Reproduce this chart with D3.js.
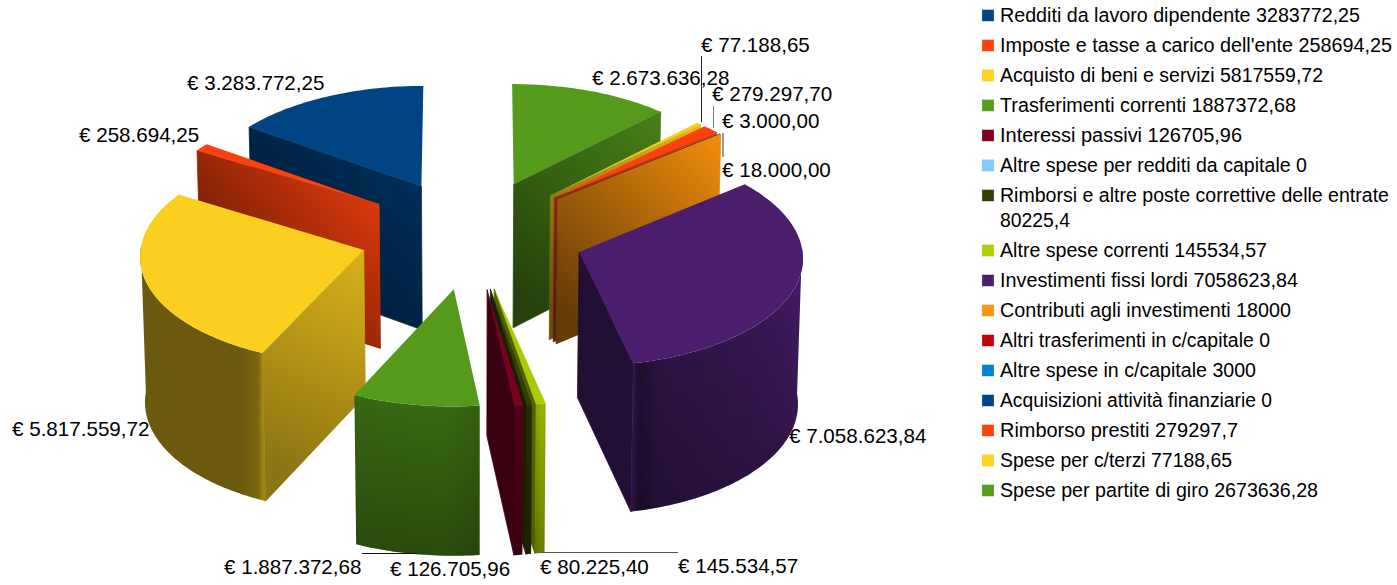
<!DOCTYPE html>
<html>
<head>
<meta charset="utf-8">
<script src="https://d3js.org/d3.v7.min.js"></script>
<style>
  html, body { margin: 0; padding: 0; background: #fff; overflow: hidden; }
  text { font-family: "Liberation Sans", Arial, sans-serif; fill: #000; }
</style>
</head>
<body>
<div id="chart"></div>
<script>
var categories = [
    'Redditi da lavoro dipendente', "Imposte e tasse a carico dell'ente", 'Acquisto di beni e servizi',
    'Trasferimenti correnti', 'Interessi passivi', 'Altre spese per redditi da capitale',
    'Rimborsi e altre poste correttive delle entrate', 'Altre spese correnti', 'Investimenti fissi lordi',
    'Contributi agli investimenti', 'Altri trasferimenti in c/capitale', 'Altre spese in c/capitale',
    'Acquisizioni attività finanziarie', 'Rimborso prestiti', 'Spese per c/terzi', 'Spese per partite di giro'
]
var values = [
    3283772.25, 258694.25, 5817559.72, 1887372.68, 126705.96, 0, 80225.4, 145534.57,
    7058623.84, 18000, 0, 3000, 0, 279297.7, 77188.65, 2673636.28
]
var colors = [
    '#004586', '#ff420e', '#ffd320', '#579d1c', '#7e0021', '#83caff', '#314004', '#aecf00',
    '#4b1f6f', '#ff950e', '#c5000b', '#0084d1', '#004586', '#ff420e', '#ffd320', '#579d1c'
]
// top-left of every value label, by hand because the labels dodge each other
var labelX = [187, 79, 12, 224, 390, null, 540, 678, 789, 722, null, 722, null, 712, 701, 592]
var labelY = [90, 142, 436, 574, 576, null, 574, 573, 443, 177, null, 128, null, 101, 52, 85]
// leader lines: x1, y1, x2, y2, colour
var leaders = [
    [701.5, 56, 701.5, 122, '#222'],
    [713.5, 106, 713.5, 128, '#777'],
    [723, 133, 723, 157, '#333'],
    [362, 553.5, 417, 553.5, '#111'],
    [540, 552.5, 678, 552.5, '#555']
]
// legend text widths as they come out in the picture
var legendWidths = [360, 392, 323, 296, 242, 307, 389, 267, 298, 291, 270, 256, 272, 238, 232, 318]
var wrappedWidth = 70

var width = 1397, height = 585
var svg = d3.select('#chart').append('svg').attr('width', width).attr('height', height)
var defs = svg.append('defs')

var color = d3.scaleOrdinal(categories, colors)
var euro = d3.formatLocale({ decimal: ',', thousands: '.', grouping: [3], currency: ['€ ', ''] }).format('$,.2f')

// world units: pie radius = 1, X to the right, Y to the back
var xScale = d3.scaleLinear([-1, 1], [250, 694])
var yScale = d3.scaleLinear([-1, 1], [342, 126])
var persp = 0.04, wallH = 145, explode = 0.507

function project(X, Y, bottom) {
    let s = 1 / (1 + persp * Y)
    let x = xScale(X * s)
    let y = yScale(Y * s)
    if (bottom) {
        x = xScale(0) + (x - xScale(0)) * 0.985
        y += wallH * (1 - 0.02 * Y)
    }
    return [x, y]
}

function shade(c, f) {
    return d3.interpolateRgb('#000', c)(f)
}

var pie = d3.pie().sort(null).value(d => d.value)
var slices = pie(categories.map((name, i) => ({ name: name, value: values[i], index: i })))
    .filter(d => d.value > 0)
slices.forEach(d => {
    let mid = (d.startAngle + d.endAngle) / 2
    // the chart runs counter-clockwise from 12 o'clock
    d.ox = -Math.sin(mid) * explode
    d.oy = Math.cos(mid) * explode
    d.depth = Math.cos(mid)
})
slices.sort((a, b) => d3.descending(a.depth, b.depth))

var line = d3.line()
var pg = svg.append('g').attr('id', 'pie')

// how bright an outer wall is for a given angle, from the picture
var arcShade = d3.scaleLinear(
    [1.5, 2.6, 2.706, 2.71, 3.1, 3.27, 3.35, 3.38, 3.48, 4.7, 5.5],
    [0.42, 0.42, 0.5, 0.66, 0.68, 0.62, 0.92, 0.47, 0.68, 0.95, 0.95]
).clamp(true)
// left / right brightness of the flat cut walls
var wallShade = { 0: [0.35, 0.72], 1: [0.33, 0.95], 2: [0.55, 0.85], 9: [0.4, 0.95], 13: [0.4, 0.9], 14: [0.4, 0.9], 15: [0.42, 0.82] }

function flatWall(group, d, angle, id) {
    let dx = -Math.sin(angle), dy = Math.cos(angle)
    let a = [d.ox, d.oy], b = [d.ox + dx, d.oy + dy]
    let pts = [project(a[0], a[1]), project(b[0], b[1]), project(b[0], b[1], true), project(a[0], a[1], true)]
    let base = color(d.data.name)
    let range = wallShade[d.data.index] || [0.47, 0.47]
    let xs = pts.map(p => p[0]), ys = pts.map(p => p[1])
    let grad = defs.append('linearGradient').attr('id', id).attr('gradientUnits', 'userSpaceOnUse')
        .attr('x1', d3.min(xs)).attr('y1', d3.max(ys) - 40).attr('x2', d3.max(xs)).attr('y2', d3.min(ys))
    grad.append('stop').attr('offset', 0).attr('stop-color', shade(base, range[0]))
    grad.append('stop').attr('offset', 1).attr('stop-color', shade(base, range[1]))
    // thin stroke so no white hairline shows against the curved wall
    group.append('path').attr('d', line(pts) + 'Z').attr('fill', 'url(#' + id + ')')
        .attr('stroke', 'url(#' + id + ')').attr('stroke-width', 0.8)
}

var fade = defs.append('linearGradient').attr('id', 'fade').attr('x1', 0).attr('y1', 0).attr('x2', 0).attr('y2', 1)
fade.append('stop').attr('offset', 0).attr('stop-color', '#000').attr('stop-opacity', 0)
fade.append('stop').attr('offset', 1).attr('stop-color', '#000').attr('stop-opacity', 0.3)

slices.forEach((d, n) => {
    let g = pg.append('g')
    let base = color(d.data.name)

    let steps = Math.max(2, Math.ceil((d.endAngle - d.startAngle) / 0.02))
    let angles = d3.range(steps + 1).map(i => d.startAngle + (d.endAngle - d.startAngle) * i / steps)
    let rim = t => [d.ox - Math.sin(t), d.oy + Math.cos(t)]

    // only the cut walls that face the viewer
    if (Math.sin(d.startAngle) < 0) flatWall(g, d, d.startAngle, 'w' + n + 'a')
    if (Math.sin(d.endAngle) > 0) flatWall(g, d, d.endAngle, 'w' + n + 'b')

    // outer wall, one path with the shade following the curve left to right
    let front = angles.filter(t => Math.cos(t) < 0.05)
    if (front.length > 1) {
        let top = front.map(t => project(rim(t)[0], rim(t)[1]))
        let bot = front.map(t => project(rim(t)[0], rim(t)[1], true)).reverse()
        let x0 = top[0][0], x1 = top[top.length - 1][0]
        let grad = defs.append('linearGradient').attr('id', 'arc' + n).attr('gradientUnits', 'userSpaceOnUse')
            .attr('x1', x0).attr('y1', 0).attr('x2', x1).attr('y2', 0)
        front.forEach((t, i) => {
            grad.append('stop').attr('offset', (top[i][0] - x0) / (x1 - x0))
                .attr('stop-color', shade(base, arcShade(t)))
        })
        let wall = line(top.concat(bot)) + 'Z'
        g.append('path').attr('d', wall).attr('fill', 'url(#arc' + n + ')')
        // the big yellow wall stays flat, the others darken downwards
        if (d.data.index !== 2) g.append('path').attr('d', wall).attr('fill', 'url(#fade)')
    }

    // top face
    let topFace = [project(d.ox, d.oy)].concat(angles.map(t => project(rim(t)[0], rim(t)[1])))
    g.append('path').attr('d', line(topFace) + 'Z').attr('fill', shade(base, 0.98))
})

svg.append('g').selectAll('line')
    .data(leaders)
    .join('line')
    .attr('x1', d => d[0]).attr('y1', d => d[1])
    .attr('x2', d => d[2]).attr('y2', d => d[3])
    .attr('stroke', d => d[4]).attr('stroke-width', 1)

svg.append('g').selectAll('text')
    .data(categories.map((c, i) => i).filter(i => values[i] > 0))
    .join('text')
    .attr('x', i => labelX[i])
    .attr('y', i => labelY[i])
    .attr('font-size', 20.6)
    .text(i => euro(values[i]))

// legend
var legendRow = d3.scaleLinear([0, 1], [15.7, 45.7])
var lg = svg.append('g').attr('id', 'legend')
var extra = 0
categories.forEach((name, i) => {
    let rowY = legendRow(i) + extra
    let number = String(values[i]).replace('.', ',')
    lg.append('rect').attr('x', 982).attr('y', rowY - 6).attr('width', 12).attr('height', 11.5)
        .attr('fill', colors[i]).attr('stroke', '#ccc').attr('stroke-width', 0.3)
    let t = lg.append('text').attr('x', 1000).attr('y', rowY + 6.5).attr('font-size', 19.6)
        .attr('textLength', legendWidths[i]).attr('lengthAdjust', 'spacingAndGlyphs')
        .text(name + ' ' + number)
    if (name.length > 40) {
        t.text(name)
        lg.append('text').attr('x', 1000).attr('y', rowY + 31.5).attr('font-size', 19.6)
            .attr('textLength', wrappedWidth).attr('lengthAdjust', 'spacingAndGlyphs').text(number)
        extra += 25
    }
})
</script>
</body>
</html>
